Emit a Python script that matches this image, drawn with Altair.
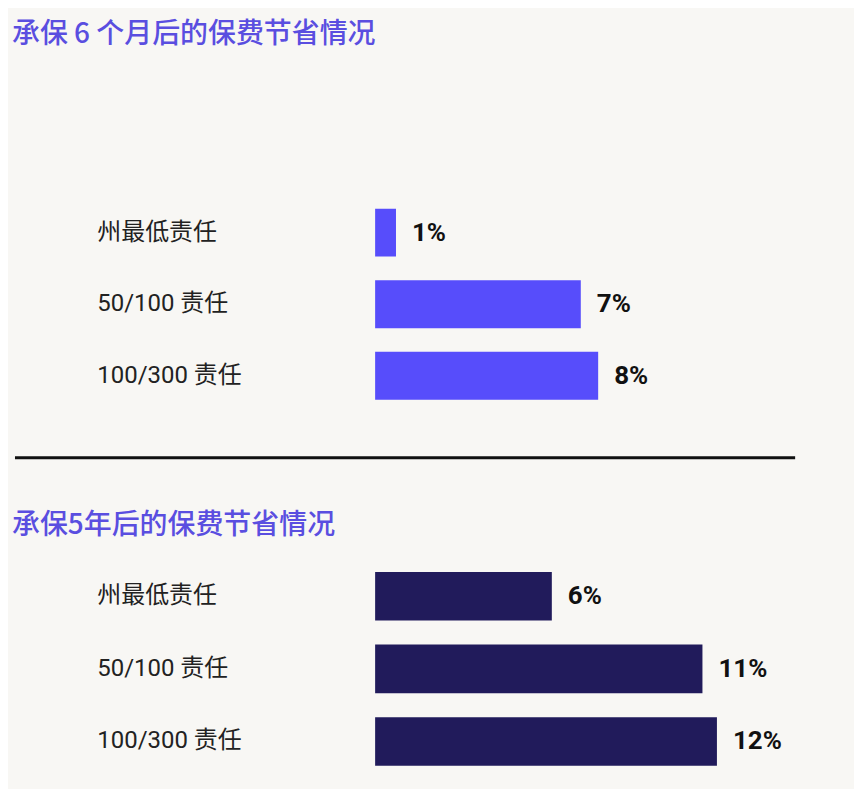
import pandas as pd
import altair as alt

categories = ["州最低责任", "50/100 责任", "100/300 责任"]

# bar lengths, labels as printed
savings_6m = [0.72, 7.1, 7.7]
labels_6m = ["1%", "7%", "8%"]
savings_5y = [6.1, 11.3, 11.8]
labels_5y = ["6%", "11%", "12%"]

title_6m = "承保 6 个月后的保费节省情况"
title_5y = "承保5年后的保费节省情况"

BG = "#f8f7f4"
TITLE_COLOR = "#5a4ee0"


def create_bar_panel(values, labels, bar_color, title, title_offset, height):
    """
    Creates one horizontal bar panel with value labels
    """
    df = pd.DataFrame({"cat": categories, "value": values, "label": labels})
    base = alt.Chart(df, width=421, height=height).encode(
        y=alt.Y(
            "cat:N",
            sort=categories,
            title=None,
            scale=alt.Scale(paddingInner=0.33, paddingOuter=0.17),
            axis=alt.Axis(
                domain=False,
                ticks=False,
                labelAlign="left",
                labelPadding=279,
                labelFont="Roboto, Noto Sans CJK SC",
                labelFontSize=24,
                labelColor="#222222",
                labelLimit=300,
            ),
        ),
        x=alt.X(
            "value:Q",
            scale=alt.Scale(domain=[0, 14.5]),
            axis=None,
        ),
    )
    bars = base.mark_bar(color=bar_color)
    text = base.mark_text(
        align="left",
        dx=16,
        font="Roboto",
        fontSize=26,
        fontWeight="bold",
        color="#111111",
    ).encode(text="label:N")
    return (bars + text).properties(
        title=alt.TitleParams(
            title,
            anchor="start",
            frame="group",
            dx=-364,
            offset=title_offset,
            font="Noto Sans CJK SC",
            fontSize=28,
            fontWeight=500,
            color=TITLE_COLOR,
        )
    )


top = create_bar_panel(savings_6m, labels_6m, "#574dfb", title_6m, 148, 216)
bottom = create_bar_panel(savings_5y, labels_5y, "#211b5b", title_5y, 20, 219)

# separator line spanning from the titles' left edge to the right of the bars
divider = alt.Chart(pd.DataFrame({"d": [0]}), width=421, height=80).mark_rule(
    color="#111111", strokeWidth=3
).encode(x=alt.value(-361), x2=alt.value(421), y=alt.value(36))

chart = alt.vconcat(top, divider, bottom, spacing=10).properties(
    background=BG,
    padding={"left": 4, "top": 12, "right": 57, "bottom": 10},
).configure_view(stroke=None)

chart.save("out.html", embed_options={"renderer": "svg", "actions": False})
